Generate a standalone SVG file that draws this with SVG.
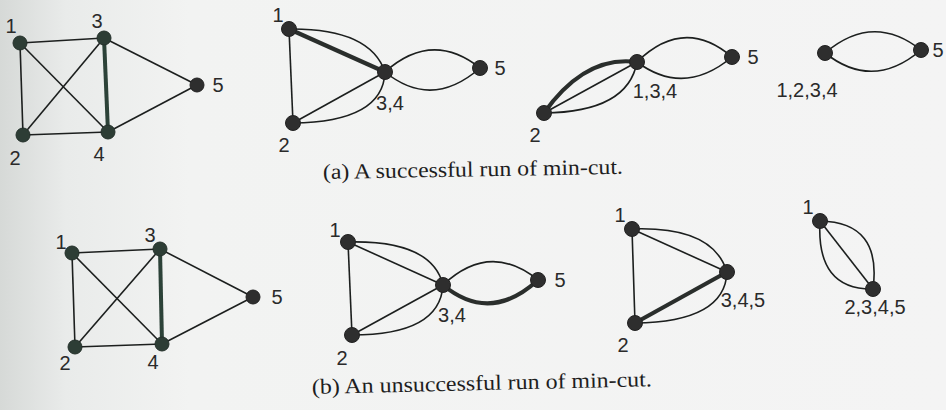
<svg xmlns="http://www.w3.org/2000/svg" width="946" height="410" viewBox="0 0 946 410">
<defs>
<linearGradient id="bg" x1="0" y1="0" x2="1" y2="0">
<stop offset="0" stop-color="#d6d9d7"/>
<stop offset="0.07" stop-color="#e9ebea"/>
<stop offset="0.2" stop-color="#f2f3f2"/>
<stop offset="1" stop-color="#f4f4f4"/>
</linearGradient>
</defs>
<style>
.e{fill:none;stroke:#1c1f1e;stroke-width:1.6}
.t{fill:none;stroke:#2a2e2c;stroke-width:4.2}
.tg{fill:none;stroke:#2c4238;stroke-width:4}
.g{fill:#2d3d35;stroke:#24302a;stroke-width:1}
.n{fill:#2e2e2e;stroke:#222;stroke-width:1}
.l{font-family:"Liberation Sans",Arial,sans-serif;font-size:20px;fill:#2a2a2a;text-anchor:middle}
.c{font-family:"Liberation Serif","Times New Roman",serif;font-size:21.5px;fill:#1e1e1e}
</style>
<rect width="946" height="410" fill="url(#bg)"/>
<g id="connectors">
<line class="e" x1="20" y1="43" x2="104" y2="38"/>
<line class="e" x1="20" y1="43" x2="23" y2="135"/>
<line class="e" x1="20" y1="43" x2="108" y2="132"/>
<line class="e" x1="104" y1="38" x2="23" y2="135"/>
<line class="e" x1="23" y1="135" x2="108" y2="132"/>
<line class="tg" x1="104" y1="38" x2="108" y2="132"/>
<line class="e" x1="104" y1="38" x2="197" y2="85"/>
<line class="e" x1="108" y1="132" x2="197" y2="85"/>
<line class="t" x1="289" y1="29" x2="385" y2="72"/>
<path class="e" d="M289,29 Q370,28 385,72"/>
<line class="e" x1="289" y1="29" x2="293" y2="123"/>
<line class="e" x1="293" y1="123" x2="385" y2="72"/>
<path class="e" d="M293,123 Q383,122 385,72"/>
<path class="e" d="M385,72 Q432,30 480,68"/>
<path class="e" d="M385,72 Q432,110 480,68"/>
<path class="t" d="M544,113 Q585,55 637,62"/>
<line class="e" x1="544" y1="113" x2="637" y2="62"/>
<path class="e" d="M544,113 Q628,112 637,62"/>
<path class="e" d="M637,62 Q684,16 732,57"/>
<path class="e" d="M637,62 Q684,97 732,57"/>
<path class="e" d="M825,53 Q873,12 921,50"/>
<path class="e" d="M825,53 Q873,91 921,50"/>
<line class="e" x1="72" y1="253" x2="160" y2="249"/>
<line class="e" x1="72" y1="253" x2="75" y2="347"/>
<line class="e" x1="72" y1="253" x2="162" y2="344"/>
<line class="e" x1="160" y1="249" x2="75" y2="347"/>
<line class="e" x1="75" y1="347" x2="162" y2="344"/>
<line class="tg" x1="160" y1="249" x2="162" y2="344"/>
<line class="e" x1="160" y1="249" x2="253" y2="297"/>
<line class="e" x1="162" y1="344" x2="253" y2="297"/>
<line class="e" x1="348" y1="242" x2="443" y2="285"/>
<path class="e" d="M348,242 Q432,240 443,285"/>
<line class="e" x1="348" y1="242" x2="352" y2="335"/>
<line class="e" x1="352" y1="335" x2="443" y2="285"/>
<path class="e" d="M352,335 Q440,335 443,285"/>
<path class="e" d="M443,285 Q490,241 538,280"/>
<path class="t" d="M443,285 Q490,324 538,280"/>
<line class="e" x1="632" y1="229" x2="727" y2="272"/>
<path class="e" d="M632,229 Q713,226 727,272"/>
<line class="e" x1="632" y1="229" x2="635" y2="323"/>
<line class="t" x1="635" y1="323" x2="727" y2="272"/>
<path class="e" d="M635,323 Q725,322 727,272"/>
<line class="e" x1="820" y1="221" x2="873" y2="289"/>
<path class="e" d="M820,221 Q816,290 873,289"/>
<path class="e" d="M820,221 Q882,222 873,289"/>
</g>
<g id="a1-n1"><circle class="g" cx="20" cy="43" r="7"/><text class="l" x="11" y="33">1</text></g>
<g id="a1-n3"><circle class="g" cx="104" cy="38" r="7"/><text class="l" x="97" y="28">3</text></g>
<g id="a1-n5"><circle class="n" cx="197" cy="85" r="7"/><text class="l" x="218" y="92">5</text></g>
<g id="a1-n2"><circle class="g" cx="23" cy="135" r="7"/><text class="l" x="15" y="165">2</text></g>
<g id="a1-n4"><circle class="g" cx="108" cy="132" r="7"/><text class="l" x="99" y="161">4</text></g>

<g id="a2-n1"><circle class="n" cx="289" cy="29" r="7.5"/><text class="l" x="278" y="22">1</text></g>
<g id="a2-n34"><circle class="n" cx="385" cy="72" r="7.5"/><text class="l" x="390" y="110">3,4</text></g>
<g id="a2-n5"><circle class="n" cx="480" cy="68" r="7.5"/><text class="l" x="500" y="75">5</text></g>
<g id="a2-n2"><circle class="n" cx="293" cy="123" r="7.5"/><text class="l" x="284" y="152">2</text></g>

<g id="a3-n134"><circle class="n" cx="637" cy="62" r="7.5"/><text class="l" x="655" y="98">1,3,4</text></g>
<g id="a3-n5"><circle class="n" cx="732" cy="57" r="7.5"/><text class="l" x="753" y="64">5</text></g>
<g id="a3-n2"><circle class="n" cx="544" cy="113" r="7.5"/><text class="l" x="535" y="142">2</text></g>

<g id="a4-n1234"><circle class="n" cx="825" cy="53" r="7.5"/><text class="l" x="807" y="97">1,2,3,4</text></g>
<g id="a4-n5"><circle class="n" cx="921" cy="50" r="7.5"/><text class="l" x="938" y="57">5</text></g>

<g id="b1-n1"><circle class="g" cx="72" cy="253" r="7"/><text class="l" x="61" y="249">1</text></g>
<g id="b1-n3"><circle class="g" cx="160" cy="249" r="7"/><text class="l" x="150" y="242">3</text></g>
<g id="b1-n5"><circle class="n" cx="253" cy="297" r="7"/><text class="l" x="277" y="304">5</text></g>
<g id="b1-n2"><circle class="g" cx="75" cy="347" r="7"/><text class="l" x="65" y="370">2</text></g>
<g id="b1-n4"><circle class="g" cx="162" cy="344" r="7"/><text class="l" x="153" y="369">4</text></g>

<g id="b2-n1"><circle class="n" cx="348" cy="242" r="7.5"/><text class="l" x="335" y="237">1</text></g>
<g id="b2-n34"><circle class="n" cx="443" cy="285" r="7.5"/><text class="l" x="452" y="322">3,4</text></g>
<g id="b2-n5"><circle class="n" cx="538" cy="280" r="7.5"/><text class="l" x="560" y="287">5</text></g>
<g id="b2-n2"><circle class="n" cx="352" cy="335" r="7.5"/><text class="l" x="342" y="365">2</text></g>

<g id="b3-n1"><circle class="n" cx="632" cy="229" r="7.5"/><text class="l" x="620" y="222">1</text></g>
<g id="b3-n345"><circle class="n" cx="727" cy="272" r="7.5"/><text class="l" x="743" y="307">3,4,5</text></g>
<g id="b3-n2"><circle class="n" cx="635" cy="323" r="7.5"/><text class="l" x="623" y="352">2</text></g>

<g id="b4-n1"><circle class="n" cx="820" cy="221" r="7.5"/><text class="l" x="808" y="214">1</text></g>
<g id="b4-n2345"><circle class="n" cx="873" cy="289" r="7.5"/><text class="l" x="875" y="314">2,3,4,5</text></g>

<g id="captions">
<text class="c" x="323" y="179" textLength="300" lengthAdjust="spacingAndGlyphs" transform="rotate(-1 323 179)">(a)  A successful run of min-cut.</text>
<text class="c" x="312" y="394" textLength="340" lengthAdjust="spacingAndGlyphs" transform="rotate(-1.3 312 394)">(b)  An unsuccessful run of min-cut.</text>
</g>
</svg>
